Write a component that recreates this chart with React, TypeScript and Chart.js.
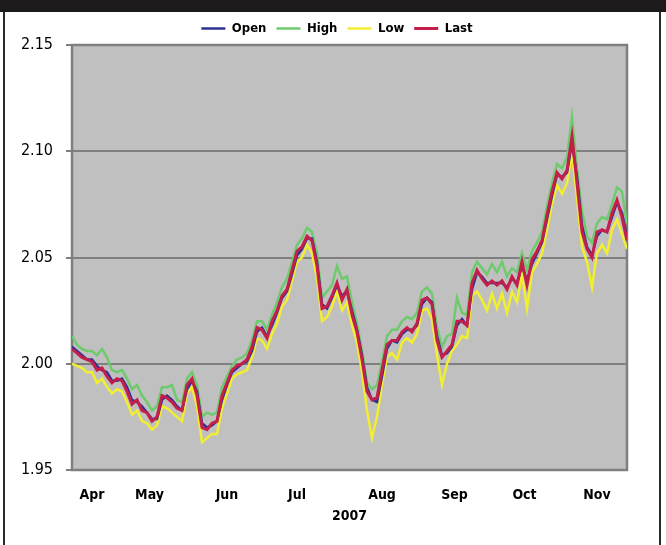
import React, { useEffect, useRef } from "react";
import { Chart, registerables } from "chart.js";

Chart.register(...registerables);

const seriesNames = ["Open", "High", "Low", "Last"];

const openValues = [
  2.008, 2.006, 2.004, 2.002, 2.002, 1.999, 1.997, 1.996, 1.992, 1.992,
  1.993, 1.989, 1.983, 1.982, 1.980, 1.977, 1.974, 1.974, 1.983, 1.985,
  1.983, 1.980, 1.978, 1.988, 1.992, 1.987, 1.972, 1.970, 1.971, 1.973,
  1.983, 1.990, 1.996, 1.998, 2.000, 2.001, 2.006, 2.015, 2.017, 2.013,
  2.018, 2.024, 2.031, 2.034, 2.042, 2.051, 2.054, 2.059, 2.059, 2.048,
  2.028, 2.026, 2.031, 2.037, 2.032, 2.034, 2.025, 2.016, 2.004, 1.989,
  1.983, 1.982, 1.994, 2.007, 2.011, 2.010, 2.014, 2.016, 2.016, 2.018,
  2.028, 2.031, 2.029, 2.013, 2.004, 2.005, 2.008, 2.018, 2.021, 2.018,
  2.035, 2.043, 2.041, 2.038, 2.038, 2.038, 2.038, 2.036, 2.040, 2.038,
  2.046, 2.039, 2.047, 2.052, 2.057, 2.068, 2.079, 2.089, 2.088, 2.090,
  2.104, 2.088, 2.065, 2.055, 2.051, 2.060, 2.063, 2.062, 2.069, 2.076,
  2.071, 2.060,
];

const highValues = [
  2.013, 2.009, 2.007, 2.006, 2.006, 2.004, 2.007, 2.003, 1.997, 1.996,
  1.997, 1.993, 1.988, 1.990, 1.985, 1.982, 1.978, 1.980, 1.989, 1.989,
  1.990, 1.983, 1.982, 1.993, 1.996, 1.990, 1.975, 1.977, 1.976, 1.977,
  1.989, 1.994, 1.999, 2.002, 2.003, 2.005, 2.011, 2.020, 2.020, 2.016,
  2.023, 2.029, 2.036, 2.040, 2.048, 2.056, 2.059, 2.064, 2.062, 2.052,
  2.031, 2.034, 2.037, 2.046, 2.040, 2.041, 2.029, 2.019, 2.006, 1.991,
  1.988, 1.990, 2.001, 2.013, 2.016, 2.016, 2.020, 2.022, 2.021, 2.024,
  2.034, 2.036, 2.033, 2.017, 2.008, 2.013, 2.014, 2.031, 2.024, 2.023,
  2.043, 2.048, 2.045, 2.042, 2.047, 2.043, 2.048, 2.041, 2.045, 2.043,
  2.052, 2.044, 2.053, 2.057, 2.062, 2.074, 2.085, 2.094, 2.092, 2.097,
  2.116, 2.092, 2.072, 2.060, 2.057, 2.066, 2.069, 2.068, 2.075, 2.083,
  2.081, 2.066,
];

const lowValues = [
  2.000, 1.999, 1.998, 1.996, 1.996, 1.991, 1.993, 1.989, 1.986, 1.988,
  1.987, 1.982, 1.976, 1.978, 1.973, 1.972, 1.969, 1.971, 1.980, 1.979,
  1.977, 1.975, 1.973, 1.986, 1.989, 1.980, 1.963, 1.965, 1.967, 1.967,
  1.979, 1.986, 1.993, 1.995, 1.996, 1.997, 2.003, 2.012, 2.011, 2.007,
  2.014, 2.019, 2.027, 2.030, 2.039, 2.048, 2.050, 2.056, 2.052, 2.040,
  2.020, 2.022, 2.027, 2.034, 2.025, 2.029, 2.018, 2.010, 1.996, 1.978,
  1.965, 1.975, 1.990, 2.003, 2.005, 2.002, 2.010, 2.012, 2.010, 2.014,
  2.025, 2.026, 2.021, 2.004, 1.990, 2.000, 2.006, 2.009, 2.013, 2.012,
  2.032, 2.034, 2.030, 2.025, 2.033, 2.026, 2.033, 2.024, 2.034, 2.029,
  2.042, 2.026, 2.043, 2.047, 2.052, 2.063, 2.075, 2.084, 2.080, 2.085,
  2.099, 2.078, 2.055, 2.048, 2.036, 2.052, 2.056, 2.052, 2.063, 2.068,
  2.061, 2.054,
];

const lastValues = [
  2.007, 2.005, 2.003, 2.002, 2.001, 1.997, 1.998, 1.994, 1.991, 1.993,
  1.992, 1.987, 1.981, 1.983, 1.978, 1.977, 1.973, 1.975, 1.985, 1.984,
  1.982, 1.979, 1.978, 1.990, 1.993, 1.985, 1.970, 1.969, 1.972, 1.973,
  1.985, 1.991, 1.997, 1.999, 2.000, 2.002, 2.008, 2.017, 2.016, 2.012,
  2.020, 2.025, 2.032, 2.035, 2.044, 2.053, 2.055, 2.060, 2.058, 2.046,
  2.026, 2.027, 2.032, 2.038, 2.030, 2.035, 2.023, 2.015, 2.002, 1.987,
  1.983, 1.984, 1.997, 2.009, 2.011, 2.011, 2.015, 2.017, 2.015, 2.019,
  2.030, 2.031, 2.028, 2.011, 2.003, 2.006, 2.009, 2.020, 2.020, 2.018,
  2.038, 2.044, 2.040, 2.037, 2.039, 2.037, 2.039, 2.035, 2.041, 2.037,
  2.048, 2.037, 2.049, 2.053, 2.058, 2.070, 2.081, 2.090, 2.087, 2.091,
  2.107, 2.085, 2.062, 2.054, 2.050, 2.062, 2.063, 2.062, 2.071, 2.077,
  2.069, 2.058,
];

// trading-session index where each month label sits
const monthTickPositions = [4, 15.5, 31, 45, 62, 76.5, 90.5, 105];
const monthTickLabels = ["Apr", "May", "Jun", "Jul", "Aug", "Sep", "Oct", "Nov"];
const yTickValues = [1.95, 2.0, 2.05, 2.1, 2.15];
const xTitle = "2007";

const seriesColors = ["#2e3192", "#6dcb6d", "#f2ee30", "#c41e4a"];

const FONT =
  '"Liberation Sans Narrow", "DejaVu Sans Condensed", "Arial Narrow", "Liberation Sans", sans-serif';

const plotFrame = {
  id: "plotFrame",
  beforeDraw(chart: any) {
    const { ctx, chartArea: a } = chart;
    ctx.save();
    ctx.fillStyle = "#c0c0c0";
    ctx.fillRect(a.left, a.top, a.right - a.left, a.bottom - a.top);
    ctx.restore();
  },
  beforeDatasetsDraw(chart: any) {
    const { ctx, chartArea: a } = chart;
    ctx.save();
    ctx.strokeStyle = "#7f7f7f";
    ctx.lineWidth = 2.5;
    ctx.strokeRect(a.left, a.top, a.right - a.left, a.bottom - a.top);
    ctx.restore();
  },
};

export default function App() {
  const canvasRef = useRef<HTMLCanvasElement | null>(null);

  useEffect(() => {
    if (!canvasRef.current) return;
    const series = [openValues, highValues, lowValues, lastValues];
    const drawOrder = [1, 3, 2, 0];
    const chart = new Chart(canvasRef.current, {
      type: "line",
      data: {
        datasets: series.map((vals, k) => ({
          label: seriesNames[k],
          data: vals.map((v, i) => ({ x: i, y: v })),
          borderColor: seriesColors[k],
          backgroundColor: seriesColors[k],
          borderWidth: k === 3 ? 3 : 2.5,
          pointRadius: 0,
          tension: 0,
          order: drawOrder[k],
        })),
      },
      options: {
        animation: false,
        responsive: false,
        devicePixelRatio: 1,
        layout: { padding: { top: 12, left: 8, right: 0, bottom: 0 } },
        plugins: {
          legend: {
            position: "top",
            labels: {
              usePointStyle: true,
              pointStyle: "line",
              pointStyleWidth: 24,
              boxHeight: 14,
              padding: 10,
              color: "#000",
              font: { family: FONT, size: 13, weight: "bold" },
              sort: (a: any, b: any) => a.datasetIndex - b.datasetIndex,
            },
          },
          tooltip: { enabled: false },
        },
        scales: {
          x: {
            type: "linear",
            min: 0,
            max: lastValues.length - 1,
            afterBuildTicks: (s: any) => {
              s.ticks = monthTickPositions.map((v) => ({ value: v }));
            },
            afterFit: (s: any) => {
              s.height = 75;
            },
            ticks: {
              autoSkip: false,
              maxRotation: 0,
              minRotation: 0,
              padding: 17,
              color: "#000",
              font: { family: FONT, size: 14, weight: "bold" },
              callback: (_v: any, i: number) => monthTickLabels[i],
            },
            grid: { display: false, drawTicks: false },
            border: { display: false },
            title: {
              display: true,
              text: xTitle,
              color: "#000",
              font: { family: FONT, size: 14, weight: "bold" },
              padding: { top: 0, bottom: 20 },
            },
          },
          y: {
            min: 1.95,
            max: 2.15,
            afterBuildTicks: (s: any) => {
              s.ticks = yTickValues.map((v) => ({ value: v }));
            },
            afterFit: (s: any) => {
              s.width = 64;
            },
            ticks: {
              padding: 13,
              color: "#000",
              font: { family: FONT, size: 16 },
              callback: (v: any) => Number(v).toFixed(2),
            },
            grid: { color: "#7f7f7f", lineWidth: 2, tickLength: 6, drawTicks: true },
            border: { display: false },
          },
          yRight: {
            position: "right",
            display: true,
            afterFit: (s: any) => {
              s.width = 39;
            },
            ticks: { display: false },
            grid: { display: false, drawTicks: false },
            border: { display: false },
          },
        },
      },
      plugins: [plotFrame],
    } as any);
    return () => chart.destroy();
  }, []);

  return (
    <div
      style={{
        position: "absolute",
        top: 0,
        left: 0,
        width: 666,
        height: 545,
        background: "#fff",
        overflow: "hidden",
      }}
    >
      <canvas
        ref={canvasRef}
        width={666}
        height={545}
        style={{ position: "absolute", top: 0, left: 0, display: "block" }}
      />
      <div style={{ position: "absolute", top: 0, left: 0, width: 666, height: 12, background: "#1c1a1b" }} />
      <div style={{ position: "absolute", top: 12, left: 3, width: 2, height: 533, background: "#2a2a2a" }} />
      <div style={{ position: "absolute", top: 12, left: 659, width: 2, height: 533, background: "#2a2a2a" }} />
    </div>
  );
}
